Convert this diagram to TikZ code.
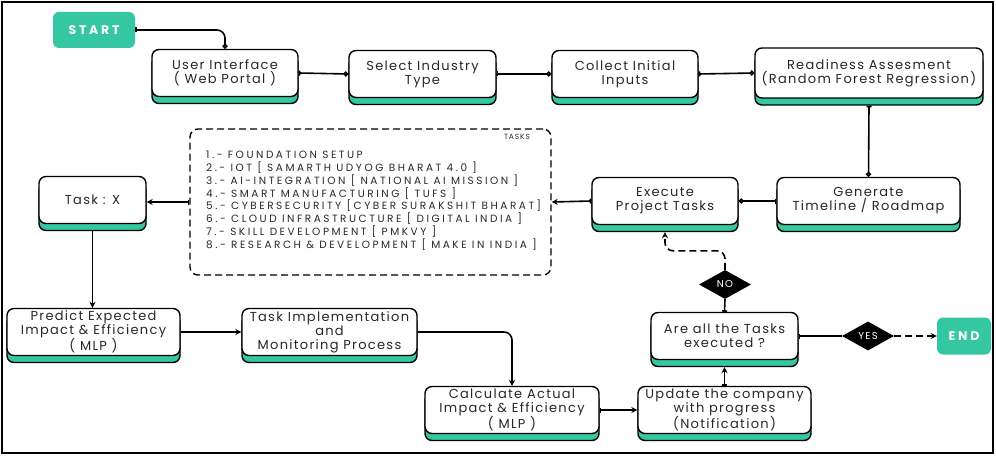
\documentclass[tikz,border=0pt]{standalone}
\usepackage{fontspec}
\setmainfont{Poppins}
\usetikzlibrary{arrows.meta,shapes.geometric,shadows}
\definecolor{tealc}{RGB}{52,199,162}
\definecolor{inkc}{RGB}{40,40,40}
\newcommand\boxfont{\fontsize{13}{14}\selectfont\addfontfeatures{LetterSpace=10}}
\newcommand\listfont{\fontsize{10.5}{12.8}\selectfont\addfontfeatures{LetterSpace=24}}
\tikzset{
	stepbox/.style={draw=black, line width=1.4pt, fill=white, rounded corners=7pt, text=inkc, font=\boxfont, align=center, inner sep=1pt, minimum height=47pt, drop shadow={shadow xshift=0pt, shadow yshift=-7pt, opacity=1, fill=tealc, draw=black, line width=1.4pt}},
	termbox/.style={fill=tealc, rounded corners=6pt, text=white, font=\fontsize{12.5}{14}\selectfont\bfseries\addfontfeatures{LetterSpace=22}},
	choice/.style={diamond, fill=black, text=white, shape aspect=2, inner sep=0pt, minimum width=52pt, minimum height=29pt, font=\fontsize{10}{12}\selectfont\addfontfeatures{LetterSpace=12}},
	link/.style={line width=1.6pt},
	barcirc/.style={link, {Bar[width=5pt]}-{Circle[open,length=5pt]}},
	circbar/.style={link, {Circle[open,length=5pt]}-{Bar[width=5pt]}},
	barfwd/.style={link, {Bar[width=5pt]}-{Stealth[length=6pt,width=6pt]}},
	fwd/.style={link, -{Stealth[length=6pt,width=6pt]}},
	dashy/.style={dash pattern=on 7pt off 4pt},
}

\begin{document}
\begin{tikzpicture}[x=1pt,y=1pt]
	\useasboundingbox (0,0) rectangle (996,456);
	\draw[line width=1.5pt] (2,3) rectangle (993,454);

	\node[termbox, minimum width=82pt, minimum height=36pt] (start) at (94,426) {START};
	\node[stepbox, minimum width=146pt] (ui) at (225,383) {User Interface\\( Web Portal )};
	\node[stepbox, minimum width=147pt] (sel) at (422.5,382) {Select Industry\\Type};
	\node[stepbox, minimum width=146pt] (coll) at (625,382) {Collect Initial\\Inputs};
	\node[stepbox, minimum width=228pt, minimum height=50pt] (ready) at (869,383) {Readiness Assesment\\(Random Forest Regression)};

	\node[stepbox, minimum width=183pt] (gen) at (868.5,255) {Generate\\Timeline / Roadmap};
	\node[stepbox, minimum width=146pt] (exec) at (665,255) {Execute\\Project Tasks};
	\node[draw=black, line width=1.4pt, dashy, rounded corners=8pt, minimum width=361pt, minimum height=146pt] (tasks) at (370.5,254) {};
	\node[anchor=north west, align=left, text=inkc, font=\listfont, inner sep=0pt] (tasklist) at (206,305) {1.- FOUNDATION SETUP\\2.- IOT [ SAMARTH UDYOG BHARAT 4.0 ]\\3.- AI-INTEGRATION [ NATIONAL AI MISSION ]\\4.- SMART MANUFACTURING [ TUFS ]\\5.- CYBERSECURITY [CYBER SURAKSHIT BHARAT]\\6.- CLOUD INFRASTRUCTURE [ DIGITAL INDIA ]\\7.- SKILL DEVELOPMENT [ PMKVY ]\\8.- RESEARCH \& DEVELOPMENT [ MAKE IN INDIA ]};
	\node[text=inkc, font=\fontsize{7.5}{8}\selectfont\addfontfeatures{LetterSpace=12}] (tasktitle) at (517,319) {TASKS};
	\node[stepbox, minimum width=107pt] (taskx) at (92.5,256) {Task : X};

	\node[stepbox, minimum width=173pt] (pred) at (93.5,124) {Predict Expected\\Impact \& Efficiency\\( MLP )};
	\node[stepbox, minimum width=175pt] (impl) at (329.5,124) {Task Implementation\\and\\Monitoring Process};
	\node[stepbox, minimum width=147pt] (areall) at (724.5,120) {Are all the Tasks\\executed ?};
	\node[choice] (no) at (725,171.5) {NO};
	\node[choice] (yes) at (868,120) {YES};
	\node[termbox, minimum width=54pt, minimum height=37pt] (finish) at (964,120) {END};
	\node[stepbox, minimum width=174pt] (calc) at (512,46) {Calculate Actual\\Impact \& Efficiency\\( MLP )};
	\node[stepbox, minimum width=173pt] (upd) at (724.5,46) {Update the company\\with progress\\(Notification)};

	\draw[circbar, rounded corners=8pt] (ui.north) |- (start.east);
	\draw[barcirc] (ui.east) -- (sel.west);
	\draw[barcirc] (sel.east) -- (coll.west);
	\draw[barcirc] (coll.east) -- (ready.west);
	\draw[barcirc] ([yshift=-7pt]ready.south) -- (gen.north);
	\draw[barcirc] (gen.west) -- (exec.east);
	\draw[barfwd] (exec.west) -- (tasks.east);
	\draw[barfwd] (tasks.west) -- (tasks.west -| taskx.east);
	\draw[fwd] ([yshift=-7pt]taskx.south) -- (taskx.south |- pred.north);
	\draw[fwd] (pred.east) -- (impl.west);
	\draw[fwd, rounded corners=8pt] (impl.east) -| (calc.north);
	\draw[barfwd] (calc.east) -- (upd.west);
	\draw[barfwd] (upd.north) -- ([yshift=-7pt]areall.south);
	\draw[link, {Bar[width=5pt]}-] (areall.north) -- (no.south);
	\draw[fwd, dashy, rounded corners=8pt] (no.north) -- ++(0,19) -| ([yshift=-7pt]exec.south);
	\draw[link, {Bar[width=5pt]}-] (areall.east) -- (yes.west);
	\draw[fwd, dashy] (yes.east) -- (finish.west);
\end{tikzpicture}
\end{document}
